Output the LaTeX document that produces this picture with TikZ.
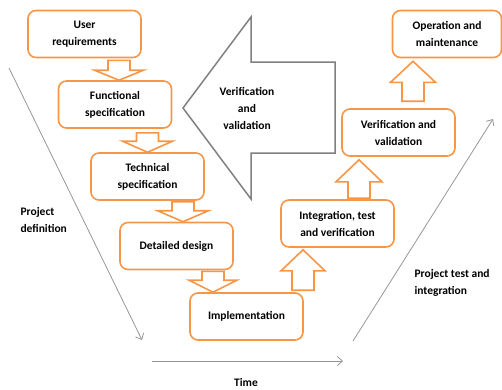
\documentclass[tikz,border=0pt]{standalone}
\usepackage{fontspec}
\setmainfont{Carlito}
\usetikzlibrary{calc,arrows.meta}

\definecolor{vorange}{RGB}{247,150,70}
\definecolor{vgray}{RGB}{128,128,128}
\definecolor{lgray}{RGB}{150,150,150}

\tikzset{
	stage/.style={draw=vorange,line width=1.6pt,rounded corners=8pt,fill=white,
		minimum width=113pt,minimum height=47pt,align=center,
		font=\bfseries\fontsize{11.5}{17}\selectfont},
	lbl/.style={align=left,font=\bfseries\fontsize{11.5}{17}\selectfont},
	blockline/.style={draw=vorange,line width=1.6pt,line join=miter,fill=white},
	timeline/.style={draw=lgray,line width=0.8pt,-{Straight Barb[length=5pt,width=9pt]}}
}

% outline arrow from base #1 to tip #2, head length #3, head half width #4
\newcommand{\blockarr}[4]{%
	\coordinate (hb) at ($(#2)!#3!(#1)$);
	\draw[blockline] ($(#1)!11pt!90:(#2)$) -- ($(hb)!11pt!90:(#2)$) -- ($(hb)!#4!90:(#2)$)
		-- (#2) -- ($(hb)!#4!-90:(#2)$) -- ($(hb)!11pt!-90:(#2)$) -- ($(#1)!11pt!-90:(#2)$) -- cycle;}

\begin{document}
\begin{tikzpicture}[x=1pt,y=-1pt]
			\useasboundingbox (0,0) rectangle (502,389);

			% left branch
			\node (ureq) at (84.5,34)[stage]{User\\requirements};
			\node (fspec) at (115,104.5)[stage]{Functional\\specification};
			\node (tspec) at (147.5,176.5)[stage]{Technical\\specification};
			\node (ddes) at (176.5,246)[stage]{Detailed design};
			\node (impl) at (246.5,316.5)[stage]{Implementation};

			% right branch
			\node (itv) at (337.5,223.5)[stage]{Integration, test\\and verification};
			\node (vval) at (398.5,132.5)[stage]{Verification and\\validation};
			\node (opm) at (447,34)[stage,minimum width=109pt]{Operation and\\maintenance};

			% downward arrows
			\coordinate (t1) at ([xshift=4pt]fspec.north);
			\coordinate (b1) at ($(ureq.south -| t1)+(0,2)$);
			\blockarr{b1}{t1}{10pt}{24.5pt}
			\coordinate (t2) at (tspec.north);
			\coordinate (b2) at ($(fspec.south -| t2)+(0,4)$);
			\blockarr{b2}{t2}{11pt}{25pt}
			\coordinate (t3) at ([xshift=6.5pt]ddes.north);
			\coordinate (b3) at ($(tspec.south -| t3)+(0,1)$);
			\blockarr{b3}{t3}{11pt}{25.5pt}
			\coordinate (t4) at ([xshift=-33.5pt]impl.north);
			\coordinate (b4) at ($(ddes.south -| t4)+(0,1)$);
			\blockarr{b4}{t4}{12pt}{24pt}

			% upward arrows
			\coordinate (t5) at ($([xshift=-34.5pt]itv.south)+(0,2)$);
			\coordinate (b5) at ($(impl.north -| t5)+(0,-2)$);
			\blockarr{b5}{t5}{21pt}{22pt}
			\coordinate (t6) at ($([xshift=-39.5pt]vval.south)+(0,3)$);
			\coordinate (b6) at ($(itv.north -| t6)+(0,-1)$);
			\blockarr{b6}{t6}{22pt}{23pt}
			\coordinate (t7) at ($([xshift=-34pt]opm.south)+(0,3)$);
			\coordinate (b7) at ($(vval.north -| t7)+(0,-7)$);
			\blockarr{b7}{t7}{21pt}{22.5pt}

			% big verification arrow
			\draw[vgray,line width=1.5pt,line join=miter] (183,108) -- (251,17) -- (251,62) -- (335,62)
				-- (335,153) -- (251,153) -- (251,199) -- cycle;
			\node (vv) at (247,108)[lbl,align=center]{Verification\\and\\validation};

			% time lines
			\coordinate (pd1) at (9,68);
			\coordinate (pd2) at (142,340);
			\coordinate (tm1) at (152,361);
			\coordinate (tm2) at (343,361);
			\coordinate (pt1) at (353,341);
			\coordinate (pt2) at (493,119);
			\draw[timeline] (pd1) -- (pd2);
			\draw[timeline] (tm1) -- (tm2);
			\draw[timeline] (pt1) -- (pt2);

			\node (pdef) at (17,220)[lbl,anchor=west]{Project\\definition};
			\node (ptest) at (411,283)[lbl,anchor=west]{Project test and\\integration};
			\node (time) at (246,382)[lbl]{Time};
		\end{tikzpicture}
\end{document}
